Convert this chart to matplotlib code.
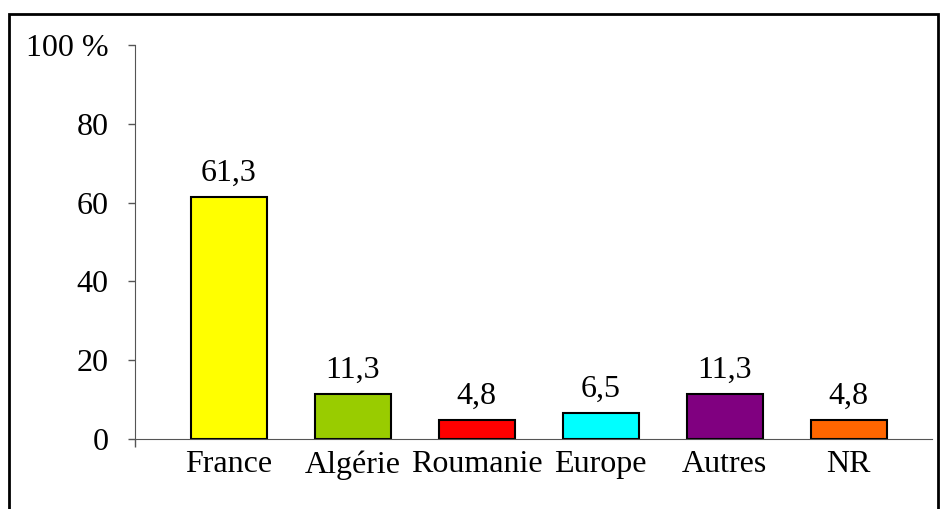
import matplotlib.pyplot as plt
from matplotlib.patches import Rectangle

categories = ['France', 'Algérie', 'Roumanie', 'Europe', 'Autres', 'NR']
values = [61.3, 11.3, 4.8, 6.5, 11.3, 4.8]
labels = ['61,3', '11,3', '4,8', '6,5', '11,3', '4,8']
colors = ['#FFFF00', '#99CC00', '#FF0000', '#00FFFF', '#800080', '#FF6600']
yticks = [0, 20, 40, 60, 80, 100]
ytick_labels = ['0', '20', '40', '60', '80', '100 %']

plt.rcParams['font.family'] = ['Liberation Serif', 'DejaVu Serif']

fig = plt.figure(figsize=(9.45, 5.09), dpi=100)
ax = fig.add_axes([0.1429, 0.1375, 0.8433, 0.7741])

x = range(len(categories))
bars = ax.bar(x, values, width=0.613, color=colors, edgecolor='black', linewidth=1.5)

# value labels above bars
for b, lab in zip(bars, labels):
    ax.annotate(lab, (b.get_x() + b.get_width() / 2, b.get_height()),
                xytext=(0, 7), textcoords='offset points',
                ha='center', va='bottom', fontsize=23)

ax.set_xlim(-0.755, 5.672)
ax.set_ylim(0, 100)
ax.set_yticks(yticks)
ax.set_yticklabels(ytick_labels, fontsize=23)
ax.set_xticks(list(x))
ax.set_xticklabels(categories, fontsize=23)
ax.tick_params(axis='x', length=0, pad=8)
ax.tick_params(axis='y', length=5, width=1, color='#555555', pad=14)
ax.set_xticks([-0.755], minor=True)
ax.tick_params(axis='x', which='minor', length=6, width=1, color='#555555')

for s in ['top', 'right']:
    ax.spines[s].set_visible(False)
ax.spines['left'].set_color('#555555')
ax.spines['bottom'].set_color('#555555')

# outer frame around the chart
fig.patches.append(Rectangle((9 / 945, -0.05), 929 / 945, 1.05 - 14 / 509,
                             transform=fig.transFigure, fill=False,
                             edgecolor='black', linewidth=2))

fig.savefig('out.png', dpi=100)
